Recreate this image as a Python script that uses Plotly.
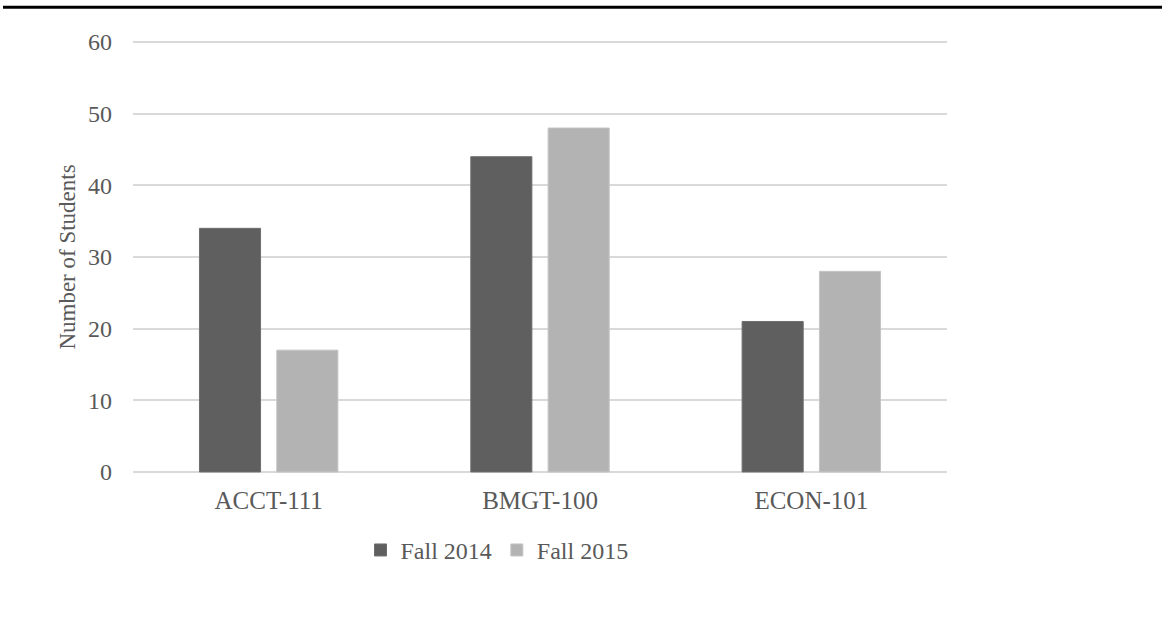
import plotly.graph_objects as go

categories = ["ACCT-111", "BMGT-100", "ECON-101"]
fall_2014 = [34, 44, 21]
fall_2015 = [17, 48, 28]
series_names = ["Fall 2014", "Fall 2015"]
y_ticks = [0, 10, 20, 30, 40, 50, 60]

W, H = 1162, 627
L, R, T, B = 133, 947, 42, 472
EPS = 0.15

fig = go.Figure()
fig.add_trace(go.Bar(x=categories, y=fall_2014, name=series_names[0],
                     marker=dict(color="#5f5f5f", line=dict(color="#6e6e6e", width=1))))
fig.add_trace(go.Bar(x=categories, y=fall_2015, name=series_names[1],
                     marker=dict(color="#b3b3b3", line=dict(color="#c4c4c4", width=1))))

font_family = "Liberation Serif, Times New Roman, serif"
fig.update_layout(
    width=W, height=H,
    margin=dict(l=L, r=W - R, t=T - 1, b=H - B - 1, pad=0),
    paper_bgcolor="white", plot_bgcolor="white",
    barmode="group", bargap=0.43, bargroupgap=0.21,
    font=dict(family=font_family, size=24, color="#595959"),
    xaxis=dict(showgrid=False, showline=False, ticks="", ticklabelstandoff=10,
               tickfont=dict(size=25, color="#595959")),
    yaxis=dict(range=[-EPS, 60 + EPS], tickvals=y_ticks, showgrid=True, gridcolor="#d9d9d9", gridwidth=1.5,
               zeroline=False, showline=False, ticks="", ticklabelstandoff=20,
               tickfont=dict(size=24, color="#595959"),
               title=dict(text="Number of Students", font=dict(size=23, color="#595959"), standoff=5)),
    legend=dict(orientation="h", x=(497 - L) / (R - L), xanchor="center",
                y=(B - 549) / (B - T), yanchor="middle",
                font=dict(size=24, color="#595959"), itemwidth=30, traceorder="normal"),
    showlegend=True,
)
fig.add_shape(type="line", xref="paper", yref="paper",
              x0=(3 - L) / (R - L), x1=(W - L) / (R - L),
              y0=(B - 8.5) / (B - T), y1=(B - 8.5) / (B - T),
              line=dict(color="black", width=3))

fig.write_html("out.html")
